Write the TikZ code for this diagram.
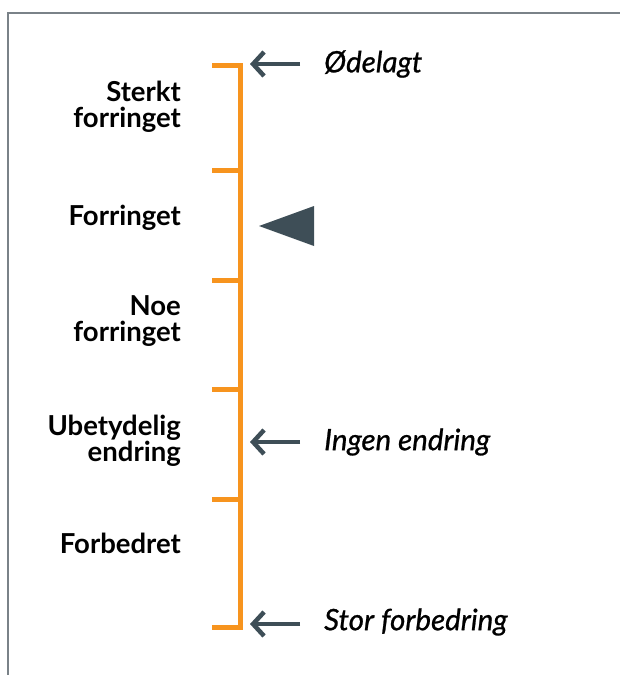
\documentclass[tikz,border=0pt]{standalone}
\usepackage{fontspec}
\setmainfont{Lato}
\newfontfamily\pointerfont{Lato}[FakeBold=0.8]
\usetikzlibrary{arrows.meta}
\definecolor{scaleorange}{RGB}{247,148,30}
\definecolor{pointerslate}{RGB}{62,78,87}
\definecolor{framegray}{RGB}{122,130,136}
\tikzset{
  levellabel/.style={anchor=east, align=right, inner sep=0pt, font=\bfseries\fontsize{27.5}{26}\selectfont},
  pointerlabel/.style={anchor=west, inner sep=0pt, font=\pointerfont\itshape\fontsize{29.5}{30}\selectfont},
  pointer/.style={pointerslate, line width=4.5pt, -{Straight Barb[length=11pt,width=24pt]}}
}
\begin{document}
\begin{tikzpicture}[x=1pt,y=-1pt]
  \useasboundingbox (0,0) rectangle (620,675);
  % Frame
  \draw[framegray, line width=1.5pt] (8,675) -- (8,13) -- (620,13);
  % Scale with ticks
  \draw[scaleorange, line width=5pt] (212,65) -- (240,65) -- (240,627) -- (212,627);
  \foreach \y in {170,280,389,499} {
    \draw[scaleorange, line width=5pt] (212,\y) -- (240,\y);
  }
  % Level names
  \node[levellabel] (sterkt) at (181,107) {Sterkt\\forringet};
  \node[levellabel] (forringet) at (181,218) {Forringet};
  \node[levellabel] (noe) at (181,321) {Noe\\forringet};
  \node[levellabel] (ubetydelig) at (181,441) {Ubetydelig\\endring};
  \node[levellabel] (forbedret) at (181,543) {Forbedret};
  % Reference points
  \node[pointerlabel] (odelagt) at (324,64) {Ødelagt};
  \node[pointerlabel] (ingen) at (324,442) {Ingen endring};
  \node[pointerlabel] (stor) at (324,622) {Stor forbedring};
  \foreach \p/\y in {odelagt/64, ingen/442, stor/624} {
    \coordinate (\p-tip) at (250,\y);
    \draw[pointer] (300,\y) -- (\p-tip);
  }
  % Current state
  \fill[pointerslate] (314,206) -- (314,246) -- (259,226) -- cycle;
\end{tikzpicture}
\end{document}
